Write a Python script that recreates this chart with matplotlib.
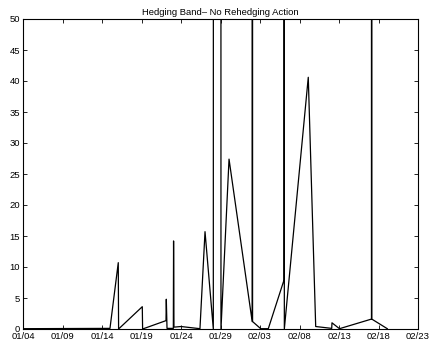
import matplotlib
matplotlib.use("Agg")
import matplotlib.pyplot as plt
import matplotlib.dates as mdates
import numpy as np
import datetime as dt

# Hedging band width over time (days since 01/04), with rehedge bursts
start_date = "2003-01-04"
day_offset = [0.0, 11.01, 12.06, 12.10, 15.10, 15.14, 18.10, 18.14, 18.23,
              19.03, 19.06, 19.11, 20.00, 22.40, 23.04, 24.09, 24.63, 25.06,
              26.08, 29.01, 29.03, 29.06, 30.09, 31.05, 33.04, 33.06, 33.08,
              36.11, 37.05, 39.08, 39.11, 40.06, 44.11, 44.13, 44.15, 46.11]
band_value = [0.05, 0.1, 10.7, 0.0, 3.6, 0.0, 1.35, 4.8, 0.1,
              0.1, 14.2, 0.3, 0.4, 0.05, 15.7, 0.0, 5000.0, 0.0,
              27.4, 1.2, 3000.0, 1.2, 0.05, 0.05, 7.9, 5000.0, 0.0,
              40.6, 0.4, 0.1, 1.0, 0.05, 1.6, 3000.0, 1.6, 0.05]
tick_step_days = 5
title_text = "Hedging Band\u2013 No Rehedging Action"

base = dt.datetime.strptime(start_date, "%Y-%m-%d")
times = [base + dt.timedelta(days=d) for d in day_offset]

plt.rcParams['font.family'] = ['Liberation Sans', 'DejaVu Sans']
fig = plt.figure(figsize=(4.29, 3.48), dpi=100)
ax = fig.add_axes([23/429, 19/348, 395/429, 310/348])

ax.plot(times, band_value, color='black', linewidth=0.9)

ax.set_ylim(0, 50)
ax.set_yticks(np.arange(0, 51, 5))
ax.set_xlim(base, base + dt.timedelta(days=50))
ax.set_xticks([base + dt.timedelta(days=k) for k in range(0, 51, tick_step_days)])
ax.xaxis.set_major_formatter(mdates.DateFormatter("%m/%d"))

ax.tick_params(direction='in', top=True, right=True, length=3, width=0.6,
               labelsize=6.8, pad=2)
ax.tick_params(axis='x', pad=2.5)
for s in ax.spines.values():
    s.set_linewidth(0.8)
ax.set_title(title_text, fontsize=6.8, pad=3)

fig.savefig("out.png", dpi=100)
